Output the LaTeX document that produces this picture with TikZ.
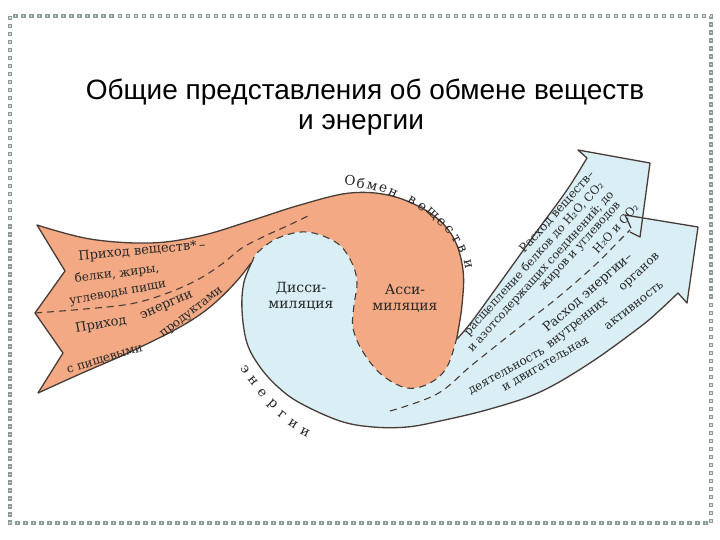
\documentclass[tikz,border=0pt]{standalone}
\usepackage{fontspec}
\setmainfont{DejaVu Serif}
\newfontfamily\titlefont{Liberation Sans}
\definecolor{orangefill}{RGB}{243,170,132}
\definecolor{bluefill}{RGB}{218,239,245}
\definecolor{edgec}{RGB}{72,60,55}
\definecolor{dotc}{RGB}{138,156,148}
\tikzset{
  outline/.style={draw=edgec, line width=1.3pt, line join=round},
  dashline/.style={draw=edgec, line width=1.1pt, dash pattern=on 7pt off 5pt},
  dtext/.style={font=\fontsize{12}{14}\selectfont, text=black!85, inner sep=0pt},
  atext/.style={font=\fontsize{11.5}{13}\selectfont, text=black!85, inner sep=0pt},
  dhead/.style={font=\fontsize{13}{15}\selectfont, text=black!85, inner sep=0pt},
  ahead/.style={font=\fontsize{12}{14}\selectfont, text=black!85, inner sep=0pt},
  dmid/.style={font=\fontsize{14}{16}\selectfont, text=black!85, inner sep=0pt},
  arcletter/.style={font=\fontsize{13.5}{15}\selectfont, text=black!85, inner sep=0pt},
  ttl/.style={font=\titlefont\fontsize{28}{32}\selectfont, text=black, inner sep=0pt, anchor=base}
}
\begin{document}
\begin{tikzpicture}[x=1pt,y=-1pt]
\useasboundingbox (0,0) rectangle (720,540);
\fill[white] (0,0) rectangle (720,540);
% border
\draw[dotc, line width=4.5pt, dash pattern=on 4.5pt off 3.5pt] (10,16) rectangle (711,523);
\draw[dotc!35, line width=1.5pt, dash pattern=on 1.5pt off 6.5pt, dash phase=6.5pt] (10,16) rectangle (711,523);
% title
\node[ttl] (t1) at (365,100) {Общие представления об обмене веществ};
\node[ttl] (t2) at (361,130) {и энергии};
% orange fill
\fill[orangefill] (37,225) -- plot[smooth,tension=0.6] coordinates {(37,225) (90,239) (150,243) (200,236) (250,221) (300,205) (350,193) (392,196) (430,213) (453,237) (463,270) (462,305) (457,337)}
 -- plot[smooth,tension=0.6] coordinates {(457,337) (447,367) (430,383) (407,388) (382,375) (363,352) (353,328) (354,305) (357,283) (352,263) (337,243) (307,232) (278,238) (258,252) (253,260)}
 -- plot[smooth,tension=0.6] coordinates {(253,260) (235,283) (210,307) (180,327) (130,352) (80,374) (38,393)}
 -- (63,353) -- (35,313) -- (65,271) -- cycle;
% blue fill
\fill[bluefill] (253,260) -- plot[smooth,tension=0.6] coordinates {(253,260) (244,282) (242,310) (247,343) (260,367) (278,387) (300,403) (340,421) (373,427) (407,427) (440,421) (490,409) (540,392) (590,363) (640,327) (660,310) (678,293)}
 -- (687,303) -- (698,227) -- (625,215) -- (632,230) -- (640,237) -- (650,163) -- (578,150) -- (587,158)
 -- plot[smooth,tension=0.6] coordinates {(587,158) (567,190) (540,227) (507,273) (473,320) (457,339)}
 -- plot[smooth,tension=0.6] coordinates {(457,337) (447,367) (430,383) (407,388) (382,375) (363,352) (353,328) (354,305) (357,283) (352,263) (337,243) (307,232) (278,238) (258,252) (253,260)}
 -- cycle;
% outlines
\draw[outline] (38,393) -- (63,353) -- (35,313) -- (65,271) -- (37,225) -- plot[smooth,tension=0.6] coordinates {(37,225) (90,239) (150,243) (200,236) (250,221) (300,205) (350,193) (392,196) (430,213) (453,237) (463,270) (462,305) (457,337)};
\draw[outline] plot[smooth,tension=0.6] coordinates {(38,393) (80,374) (130,352) (180,327) (210,307) (235,283) (251,263)};
\draw[outline] plot[smooth,tension=0.6] coordinates {(253,260) (244,282) (242,310) (247,343) (260,367) (278,387) (300,403) (340,421) (373,427) (407,427) (440,421) (490,409) (540,392) (590,363) (640,327) (660,310) (678,293)}
 -- (687,303) -- (698,227) -- (625,215) -- (631,228);
\draw[outline] (630,232) -- (640,237) -- (650,163) -- (578,150) -- (587,158)
 -- plot[smooth,tension=0.6] coordinates {(587,158) (567,190) (540,227) (507,273) (473,320) (457,339)};
% dashed lines
\draw[dashline] plot[smooth,tension=0.6] coordinates {(457,337) (447,367) (430,383) (407,388) (382,375) (363,352) (353,328) (354,305) (357,283) (352,263) (337,243) (307,232) (278,238) (258,252) (253,260)};
\draw[dashline] plot[smooth,tension=0.6] coordinates {(35,313) (85,309) (130,304) (165,294) (197,280) (222,264) (242,248) (265,236) (287,226) (308,216)};
\draw[dashline] plot[smooth,tension=0.6] coordinates {(390,411) (437,394) (472,365) (516,330) (556,299) (594,266) (619,241) (630,230)};
% left tail text
\node[dhead, rotate=5] (l1) at (142,251) {Приход веществ*\,–};
\node[dtext, rotate=7] (l2) at (117,274) {белки, жиры,};
\node[dtext, rotate=10] (l3) at (118,294) {углеводы пищи};
\node[dhead, rotate=10] (l4) at (101,325) {Приход};
\node[dhead, rotate=24] (l5) at (167,306) {энергии};
\node[dtext, rotate=17] (l6) at (105,360) {с пищевыми};
\node[dtext, rotate=38] (l7) at (192,313) {продуктами};
% center text
\node[dmid, align=center] (dis) at (301,296) {Дисси-\\миляция};
\node[dmid, align=center] (ass) at (405,298) {Асси-\\миляция};
% upper arrow text
\node[ahead, rotate=48] (r1) at (557,212) {Расход веществ–};
\node[atext, rotate=48] (r2) at (534,259) {расщепление белков до H₂O, CO₂};
\node[atext, rotate=48] (r3) at (541,272) {и азотсодержащих соединений; до};
\node[atext, rotate=48] (r4) at (581,247) {жиров и углеводов};
\node[atext, rotate=48] (r5) at (615.5,228.5) {H₂O и CO₂};
% lower arrow text
\node[dhead, rotate=41] (r6) at (588,293) {Расход энергии–};
\node[dtext, rotate=29] (r7a) at (507,372) {деятельность};
\node[dtext, rotate=38] (r7b) at (578,324) {внутренних};
\node[dtext, rotate=43] (r7c) at (640,273) {органов};
\node[dtext, rotate=30] (r8a) at (546,365) {и двигательная};
\node[dtext, rotate=38] (r8b) at (634,306) {активность};
% arc letters
\foreach \ch/\x/\y/\r [count=\i] in {О/350/180/-8, б/361/183/-12, м/372/186/-15, е/383/189/-20, н/393/193/-24, в/412/201/-32, е/422/207/-38, щ/432/214/-44, е/441/222/-50, с/449/230/-56, т/456/239/-62, в/462/249/-68, и/468/264/-78}
  \node[arcletter, rotate=\r] (ob\i) at (\x,\y) {\ch};
\foreach \ch/\x/\y/\r [count=\i] in {э/245/370/-55, н/253/381/-52, е/262/393/-48, р/272/405/-43, г/282/415/-38, и/293/424/-33, и/305/432/-27}
  \node[arcletter, rotate=\r] (en\i) at (\x,\y) {\ch};
\end{tikzpicture}
\end{document}
